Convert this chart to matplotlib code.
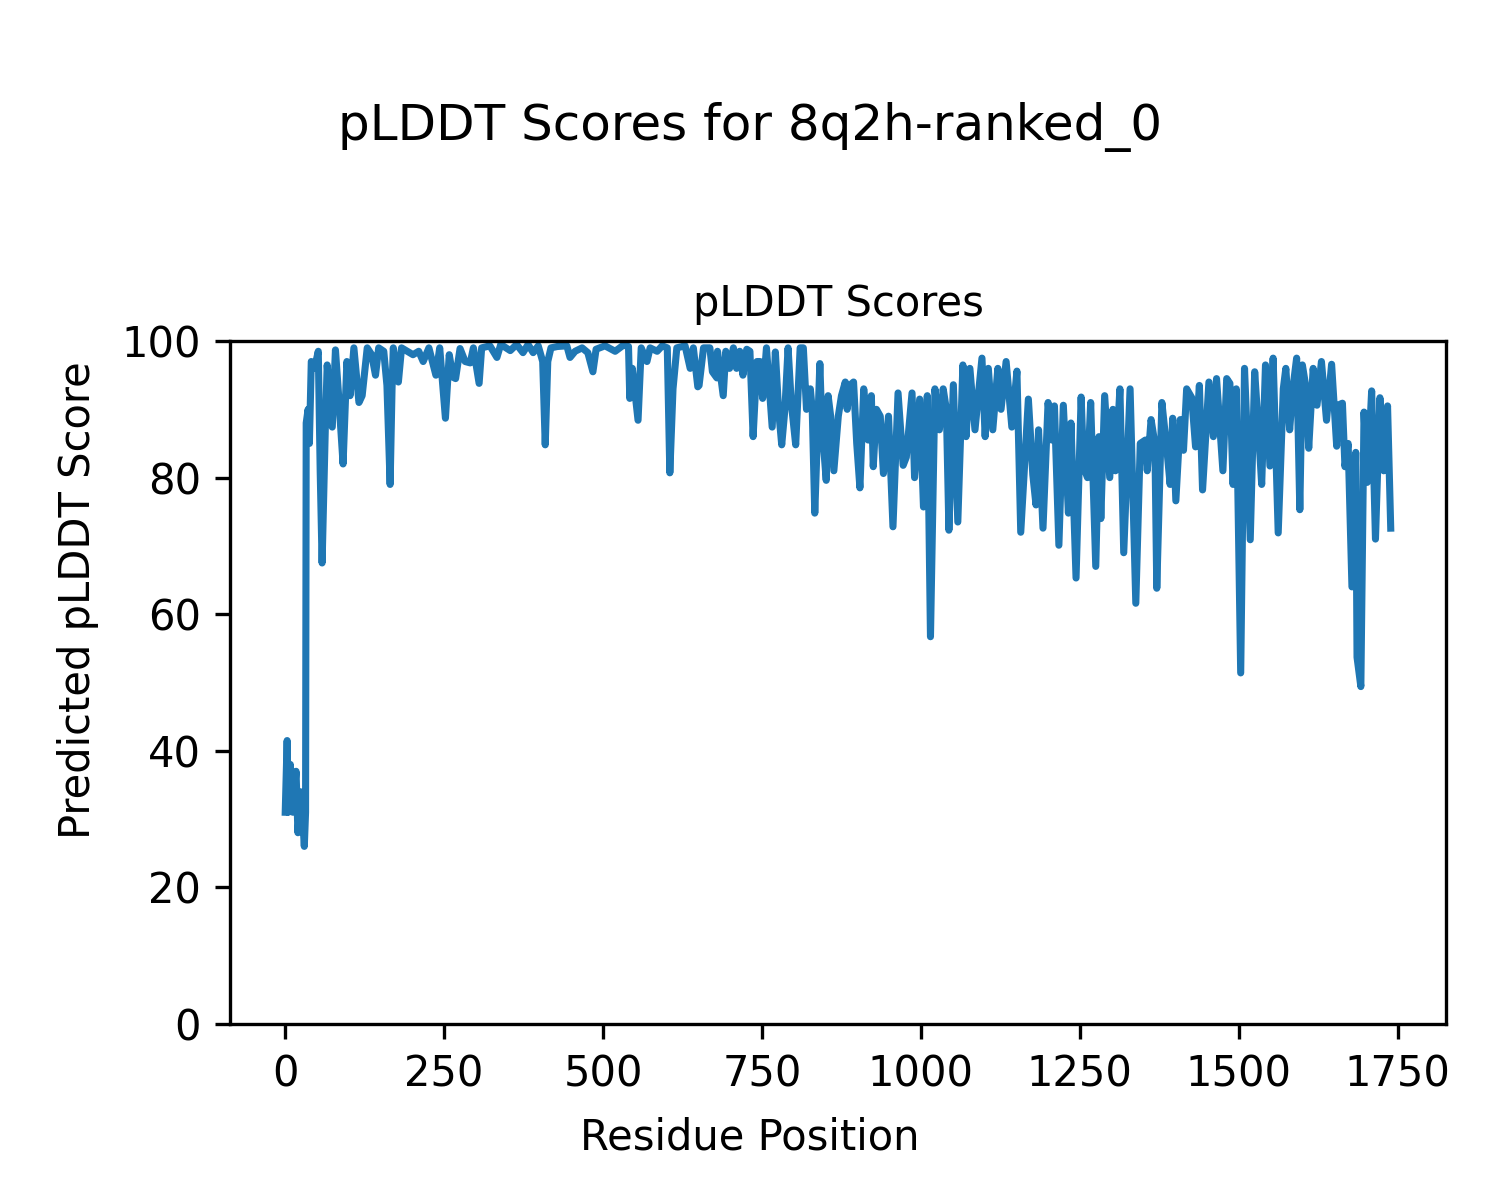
import matplotlib
matplotlib.use('Agg')
import matplotlib.pyplot as plt

# residue positions and pLDDT scores
residues = [0, 3, 5, 8, 12, 17, 20, 24, 27, 30, 32, 33, 36, 38, 41, 46, 52, 55, 58, 63,
            66, 74, 79, 84, 91, 97, 102, 108, 116, 121, 129, 136, 142, 147, 155, 160, 165, 168, 170, 178,
            183, 192, 201, 210, 217, 226, 237, 243, 252, 258, 264, 268, 275, 283, 291, 296, 305, 309, 322, 333,
            339, 354, 364, 374, 382, 390, 398, 405, 409, 413, 418, 428, 443, 448, 456, 467, 476, 484, 489, 503,
            519, 532, 540, 542, 546, 555, 560, 569, 574, 585, 593, 601, 605, 610, 616, 629, 637, 642, 649, 651,
            658, 668, 672, 679, 680, 689, 693, 699, 705, 710, 715, 720, 726, 731, 736, 742, 747, 751, 757, 766,
            771, 776, 781, 786, 791, 796, 803, 810, 815, 820, 826, 829, 833, 841, 844, 851, 854, 858, 863, 870,
            875, 881, 884, 888, 894, 899, 904, 910, 917, 922, 925, 930, 936, 941, 949, 956, 964, 972, 977, 986,
            990, 998, 1004, 1010, 1015, 1022, 1029, 1035, 1040, 1044, 1051, 1058, 1066, 1071, 1077, 1085, 1096, 1101, 1106, 1113,
            1121, 1126, 1134, 1143, 1151, 1157, 1169, 1176, 1181, 1185, 1192, 1200, 1206, 1210, 1217, 1224, 1232, 1236, 1244, 1252,
            1256, 1262, 1267, 1275, 1280, 1283, 1289, 1297, 1302, 1306, 1313, 1319, 1329, 1338, 1345, 1353, 1356, 1362, 1368, 1371,
            1379, 1387, 1392, 1396, 1401, 1408, 1413, 1418, 1426, 1432, 1438, 1443, 1453, 1460, 1465, 1475, 1481, 1486, 1491, 1496,
            1503, 1509, 1512, 1518, 1525, 1530, 1536, 1542, 1549, 1554, 1562, 1570, 1574, 1580, 1585, 1591, 1596, 1600, 1606, 1610,
            1617, 1623, 1630, 1638, 1646, 1654, 1656, 1663, 1667, 1672, 1678, 1684, 1686, 1692, 1697, 1702, 1709, 1715, 1722, 1728,
            1734, 1739]
scores = [31.0, 41.5, 31.0, 38.0, 31.0, 37.0, 28.0, 34.0, 31.0, 26.0, 31.0, 88.0, 90.0, 85.0, 97.0, 96.0, 98.5, 81.0, 67.5, 87.0,
          96.5, 87.4, 98.7, 92.0, 82.0, 97.0, 92.0, 99.0, 91.0, 92.0, 99.0, 98.0, 95.0, 99.0, 98.5, 93.5, 79.0, 93.0, 99.0, 94.0,
          99.0, 98.5, 98.0, 98.5, 97.0, 99.0, 95.0, 99.0, 88.7, 98.0, 94.7, 94.5, 98.9, 97.0, 96.8, 99.0, 93.8, 99.0, 99.3, 97.6,
          99.5, 98.6, 99.5, 98.3, 99.5, 98.3, 99.3, 97.0, 84.8, 97.0, 99.0, 99.2, 99.3, 97.6, 98.5, 99.0, 98.3, 95.5, 98.8, 99.3,
          98.5, 99.4, 99.2, 91.6, 96.0, 88.4, 99.0, 97.0, 99.0, 98.5, 99.3, 99.0, 80.7, 93.0, 99.0, 99.3, 96.0, 99.0, 93.3, 93.5,
          99.0, 99.0, 95.5, 94.6, 98.5, 92.0, 98.5, 96.0, 99.0, 96.0, 98.5, 95.0, 98.8, 98.5, 86.0, 97.0, 97.0, 91.6, 99.0, 87.4,
          98.4, 90.0, 84.8, 90.0, 99.0, 91.0, 84.8, 99.0, 99.0, 90.0, 93.0, 90.0, 74.8, 96.7, 88.0, 79.6, 92.0, 89.0, 81.0, 89.0,
          92.0, 94.0, 90.0, 93.5, 94.0, 85.0, 78.5, 93.0, 85.5, 92.0, 81.6, 90.0, 89.0, 80.6, 89.0, 72.8, 92.4, 81.8, 83.0, 92.4,
          80.0, 91.5, 75.7, 92.0, 56.7, 93.0, 87.0, 93.0, 90.0, 72.3, 93.6, 73.5, 96.5, 86.0, 96.0, 87.0, 97.5, 86.0, 96.0, 87.0,
          96.0, 90.0, 97.0, 87.4, 95.6, 72.0, 91.5, 80.4, 76.0, 87.0, 72.6, 91.0, 85.5, 90.5, 70.1, 90.6, 74.8, 88.0, 65.3, 91.8,
          81.5, 80.0, 91.0, 67.0, 86.0, 74.0, 92.0, 80.0, 90.0, 81.0, 93.0, 69.0, 93.0, 61.6, 85.0, 85.5, 81.0, 88.5, 85.0, 63.8,
          91.0, 84.0, 79.0, 88.7, 76.6, 88.5, 84.0, 93.0, 91.7, 84.5, 93.5, 78.2, 94.0, 86.0, 94.5, 81.0, 94.5, 93.8, 79.0, 93.0,
          51.4, 96.0, 89.0, 70.9, 95.5, 88.4, 79.0, 96.5, 81.7, 97.5, 71.9, 93.0, 96.0, 87.0, 93.0, 97.5, 75.3, 96.5, 93.0, 84.3,
          96.0, 90.6, 97.0, 88.4, 96.6, 84.6, 90.6, 90.9, 81.6, 85.0, 64.0, 83.7, 53.7, 49.4, 89.6, 79.3, 92.7, 71.0, 91.7, 81.0,
          90.5, 72.6]

fig, ax = plt.subplots(figsize=(5, 4), dpi=300)
fig.subplots_adjust(left=0.1533, right=0.964, top=0.7158, bottom=0.1467)

ax.plot(residues, scores, color='#1f77b4', linewidth=1.7)
ax.set_ylim(0, 100)
ax.set_title('pLDDT Scores', fontsize=10)
fig.suptitle('pLDDT Scores for 8q2h-ranked_0', fontsize=12, y=0.915)
fig.supxlabel('Residue Position', fontsize=10, y=0.0517, va='center')
fig.supylabel('Predicted pLDDT Score', fontsize=10, x=0.052, ha='center')

plt.savefig('out.png', dpi=300)
